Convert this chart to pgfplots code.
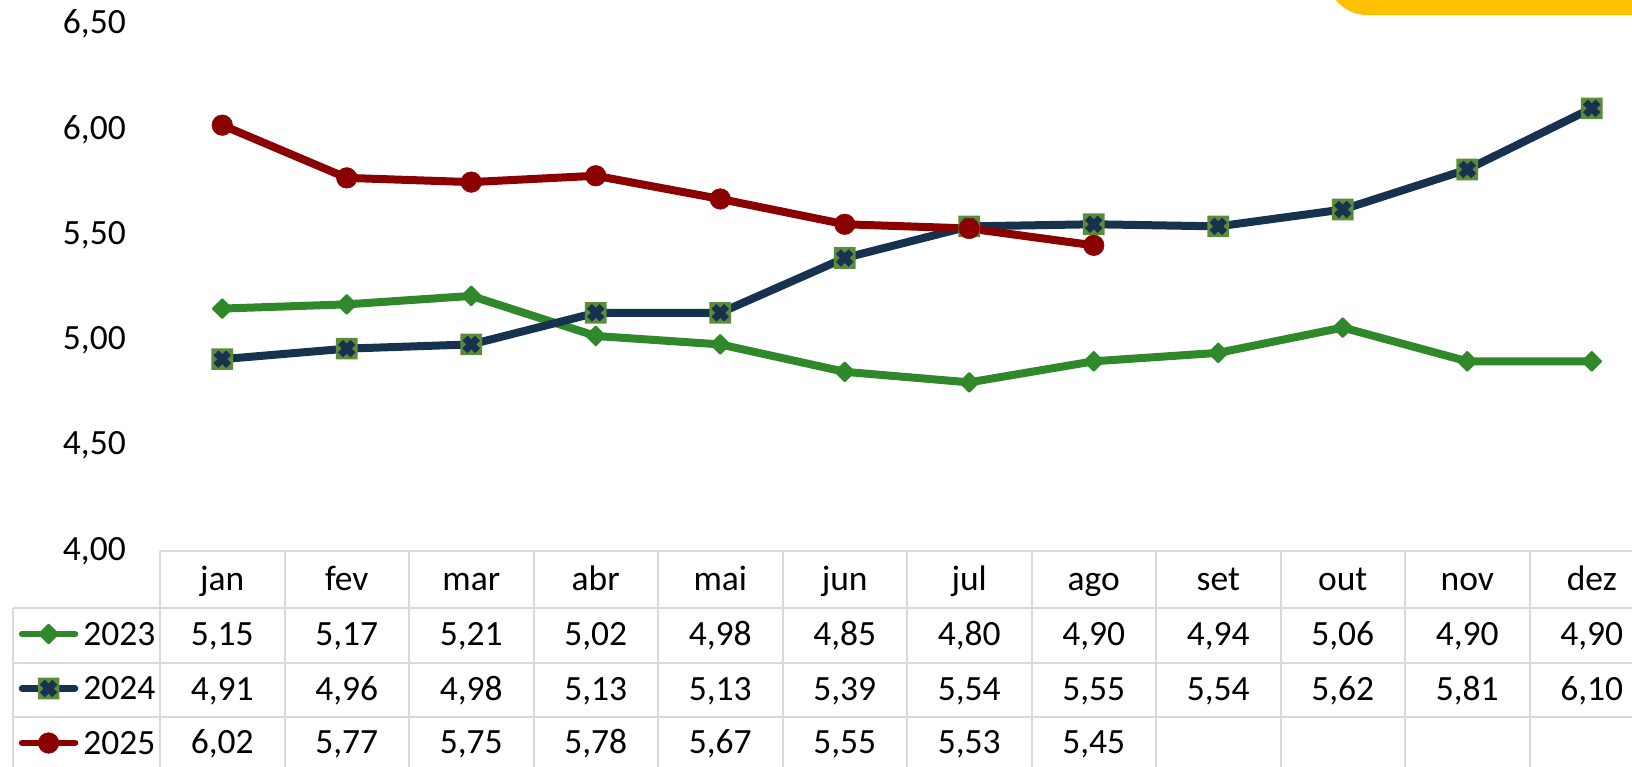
\documentclass[border=0pt]{standalone}
\usepackage{pgfplots}
\pgfplotsset{compat=1.18}
\usepackage{fontspec}
\setmainfont{Carlito}
\definecolor{gr}{RGB}{47,137,43}
\definecolor{nv}{RGB}{23,50,79}
\definecolor{rd}{RGB}{139,0,0}
\definecolor{sqg}{RGB}{92,140,58}
\definecolor{gridc}{RGB}{217,217,217}
\definecolor{ylw}{RGB}{255,192,0}
\newcommand\tf{\fontsize{35.5}{40}\selectfont}
\pgfdeclareplotmark{sqx}{%
  \pgfsetcornersarced{\pgfqpoint{3.5pt}{3.5pt}}%
  \pgfpathmoveto{\pgfqpoint{0pt}{-10.8pt}}%
  \pgfpathlineto{\pgfqpoint{10.8pt}{-10.8pt}}%
  \pgfpathlineto{\pgfqpoint{10.8pt}{10.8pt}}%
  \pgfpathlineto{\pgfqpoint{-10.8pt}{10.8pt}}%
  \pgfpathlineto{\pgfqpoint{-10.8pt}{-10.8pt}}%
  \pgfpathclose
  \pgfsetfillcolor{sqg}%
  \pgfusepathqfill
  \pgfsetcornersarced{\pgfpointorigin}%
  \pgfsetlinewidth{7pt}%
  \pgfsetbuttcap
  \pgfsetstrokecolor{nv}%
  \pgfpathmoveto{\pgfqpoint{-6.3pt}{-6.3pt}}%
  \pgfpathlineto{\pgfqpoint{6.3pt}{6.3pt}}%
  \pgfpathmoveto{\pgfqpoint{-6.3pt}{6.3pt}}%
  \pgfpathlineto{\pgfqpoint{6.3pt}{-6.3pt}}%
  \pgfusepathqstroke
}
\begin{document}
\begin{tikzpicture}
\path[use as bounding box] (0pt,0pt) rectangle (1632pt,-767pt);
\clip (0pt,0pt) rectangle (1632pt,-767pt);
\begin{scope}[x=1pt,y=1pt]
  \fill[ylw, rounded corners=40pt] (1327,-15) rectangle (1720,60);
  \draw[gridc, line width=2pt] (160,-551) -- (1700,-551);
  \foreach \yy in {608,663,717} \draw[gridc, line width=2pt] (13,-\yy) -- (1700,-\yy);
  \draw[gridc, line width=2pt] (13,-608) -- (13,-790);
  \foreach \k in {0,...,12} \draw[gridc, line width=2pt] ({160+124.5*\k},-551) -- ({160+124.5*\k},-790);
  \foreach \m [count=\i from 0] in {jan,fev,mar,abr,mai,jun,jul,ago,set,out,nov,dez}
    \node[anchor=base, inner sep=0pt, font=\tf] at ({160+124.5*(\i+0.5)},-590) {\m};
  \foreach \a/\b [count=\i from 0] in {5/15,5/17,5/21,5/02,4/98,4/85,4/80,4/90,4/94,5/06,4/90,4/90}
    \node[anchor=base, inner sep=0pt, font=\tf] at ({160+124.5*(\i+0.5)},-645) {\a,\b};
  \foreach \a/\b [count=\i from 0] in {4/91,4/96,4/98,5/13,5/13,5/39,5/54,5/55,5/54,5/62,5/81,6/10}
    \node[anchor=base, inner sep=0pt, font=\tf] at ({160+124.5*(\i+0.5)},-700) {\a,\b};
  \foreach \a/\b [count=\i from 0] in {6/02,5/77,5/75,5/78,5/67,5/55,5/53,5/45}
    \node[anchor=base, inner sep=0pt, font=\tf] at ({160+124.5*(\i+0.5)},-753) {\a,\b};
\end{scope}
\begin{axis}[
  at={(160pt,-551pt)}, anchor=south west,
  scale only axis, width=1494pt, height=527pt,
  xmin=0, xmax=12, ymin=4, ymax=6.5,
  clip=false,
  axis line style={draw=none},
  major tick length=0pt,
  xtick=\empty,
  ytick={4,4.5,5,5.5,6,6.5},
  yticklabel style={font=\tf, anchor=east, inner sep=0pt, xshift=-34pt},
  /pgf/number format/.cd, use comma, fixed, fixed zerofill, precision=2, assume math mode=true,
  /pgfplots/.cd,
  legend cell align=left,
  legend style={at={(axis description cs:-0.0945,-0.12144)}, anchor=north west,
    draw=none, fill=none, inner sep=0pt, outer sep=0pt, row sep=0pt, column sep=5pt,
    font=\tf, nodes={inner sep=0pt, text height=30pt, text depth=24.5pt, anchor=base west}},
  legend image code/.code={\draw[#1, line width=6.5pt, line cap=round, mark repeat=2, mark phase=2] plot coordinates {(0pt,11pt) (26.5pt,11pt) (53pt,11pt)};},
  every axis plot/.append style={line width=8pt, line join=round, line cap=round},
]
\addplot[gr, mark=square*, mark size=6.6pt, mark options={rotate=45, fill=gr, draw=gr, line width=2pt, line join=round}] coordinates {
(0.5,5.15) (1.5,5.17) (2.5,5.21) (3.5,5.02) (4.5,4.98) (5.5,4.85) (6.5,4.80) (7.5,4.90) (8.5,4.94) (9.5,5.06) (10.5,4.90) (11.5,4.90)};
\addlegendentry{2023}
\addplot[nv, mark=sqx] coordinates {
(0.5,4.91) (1.5,4.96) (2.5,4.98) (3.5,5.13) (4.5,5.13) (5.5,5.39) (6.5,5.54) (7.5,5.55) (8.5,5.54) (9.5,5.62) (10.5,5.81) (11.5,6.10)};
\addlegendentry{2024}
\addplot[rd, mark=*, mark size=10.3pt, mark options={fill=rd, draw=rd, line width=0.5pt}] coordinates {
(0.5,6.02) (1.5,5.77) (2.5,5.75) (3.5,5.78) (4.5,5.67) (5.5,5.55) (6.5,5.53) (7.5,5.45)};
\addlegendentry{2025}
\end{axis}
\end{tikzpicture}
\end{document}
